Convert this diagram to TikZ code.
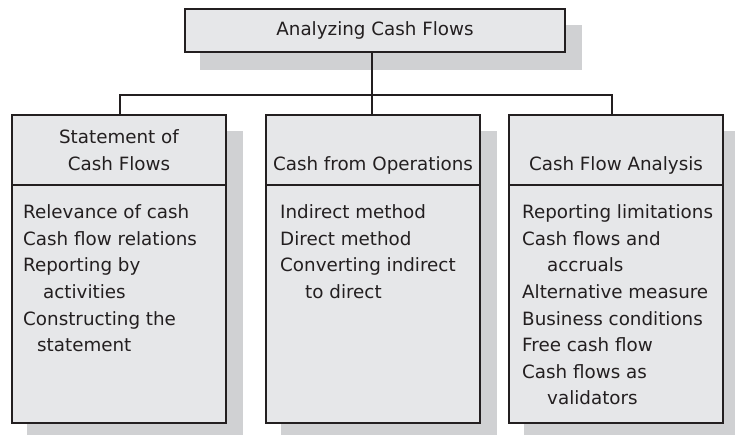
\documentclass[tikz,border=0pt]{standalone}
\usepackage{fontspec}
\setmainfont{DejaVu Sans}
\usetikzlibrary{backgrounds}
\definecolor{boxfill}{RGB}{230,231,233}
\definecolor{shadowc}{RGB}{208,209,211}
\definecolor{ink}{RGB}{35,31,32}
\tikzset{
  frame/.style={draw=ink, line width=2pt, fill=boxfill, rectangle, inner sep=0pt, minimum width=214pt},
  onehead/.style={frame, anchor=base, text height=55pt, text depth=15pt},
  bodybox/.style={frame, minimum height=238pt},
  item/.style={anchor=base west, inner sep=0pt, text=ink},
  link/.style={draw=ink, line width=2pt},
  shadow/.style={fill=shadowc}
}
\begin{document}
\begin{tikzpicture}[x=1pt, y=-1pt, font=\fontsize{18.3}{26.6}\selectfont]
\useasboundingbox (0,0) rectangle (735,434);

% top box
\node[frame, minimum width=380pt, minimum height=43pt, text=ink] (top) at (375,30.5) {Analyzing Cash Flows};

% headers
\node[frame, minimum height=70pt, align=center, text=ink] (lhead) at (119,150) {Statement of\\Cash Flows};
\node[onehead, text=ink] (mhead) at (373,170) {Cash from Operations};
\node[onehead, text=ink] (rhead) at (616,170) {Cash Flow Analysis};

% bodies
\node[bodybox] (lbody) at (119,304) {};
\node[bodybox] (mbody) at (373,304) {};
\node[bodybox] (rbody) at (616,304) {};

% left items
\node[item] (l1) at (23,218) {Relevance of cash};
\node[item] (l2) at (23,245) {Cash flow relations};
\node[item] (l3) at (23,271) {Reporting by};
\node[item] (l4) at (43,298) {activities};
\node[item] (l5) at (23,325) {Constructing the};
\node[item] (l6) at (37,351) {statement};

% middle items
\node[item] (m1) at (280,218) {Indirect method};
\node[item] (m2) at (280,245) {Direct method};
\node[item] (m3) at (280,271) {Converting indirect};
\node[item] (m4) at (305,298) {to direct};

% right items
\node[item] (r1) at (522,218) {Reporting limitations};
\node[item] (r2) at (522,245) {Cash flows and};
\node[item] (r3) at (547,271) {accruals};
\node[item] (r4) at (522,298) {Alternative measure};
\node[item] (r5) at (522,325) {Business conditions};
\node[item] (r6) at (522,351) {Free cash flow};
\node[item] (r7) at (522,378) {Cash flows as};
\node[item] (r8) at (547,404) {validators};

% connectors
\coordinate (bus) at (372,95);
\draw[link] ([xshift=-3pt]top.south) -- (bus);
\draw[link] ([xshift=1pt]lhead.north) |- (bus) -| ([xshift=-4pt]rhead.north);
\draw[link] (bus) -- ([xshift=-1pt]mhead.north);

% shadows
\begin{pgfonlayer}{background}
\fill[shadow] ([shift={(16,17)}]top.north west) rectangle ([shift={(16,17)}]top.south east);
\fill[shadow] ([shift={(16,17)}]lhead.north west) rectangle ([shift={(16,17)}]lbody.south east);
\fill[shadow] ([shift={(16,17)}]mhead.north west) rectangle ([shift={(16,17)}]mbody.south east);
\fill[shadow] ([shift={(16,17)}]rhead.north west) rectangle ([shift={(16,17)}]rbody.south east);
\end{pgfonlayer}
\end{tikzpicture}
\end{document}
